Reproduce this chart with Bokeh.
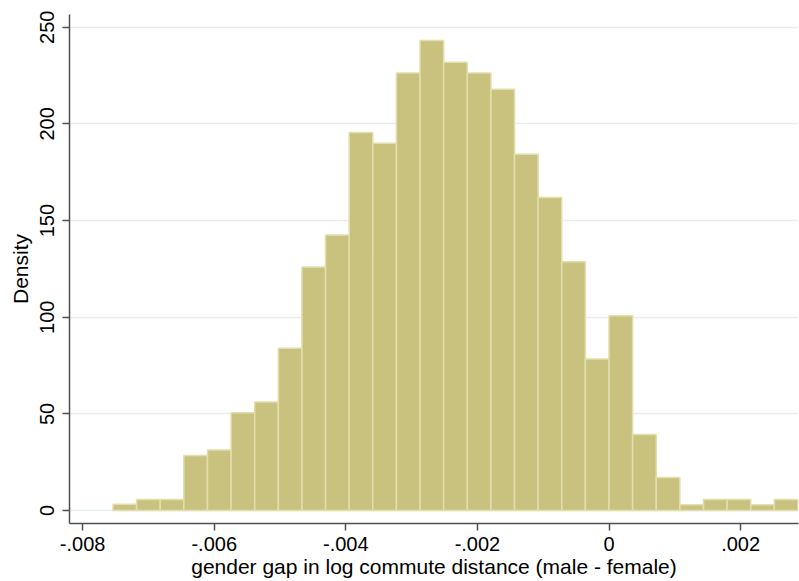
from bokeh.plotting import figure
from bokeh.models import FixedTicker, ColumnDataSource, Range1d
from bokeh.embed import file_html
from bokeh.resources import INLINE

# Histogram data (density)
bin_start = -0.007539
bin_width = 0.000359
density = [3.3, 5.7, 5.7, 28.5, 31.3, 50.6, 56.1, 84.0, 126.0, 142.5,
           195.6, 190.0, 226.4, 243.1, 231.9, 226.4, 217.9, 184.3, 162.0, 128.7,
           78.4, 100.8, 39.3, 17.1, 3.0, 5.7, 5.7, 3.0, 5.7]

x_ticks = [-0.008, -0.006, -0.004, -0.002, 0.0, 0.002]
x_tick_labels = ["-.008", "-.006", "-.004", "-.002", "0", ".002"]
y_ticks = [0, 50, 100, 150, 200, 250]
y_tick_labels = ["0", "50", "100", "150", "200", "250"]

x_title = "gender gap in log commute distance (male - female)"
y_title = "Density"

left = [bin_start + i * bin_width for i in range(len(density))]
right = [l + bin_width for l in left]
src = ColumnDataSource(dict(left=left, right=right, top=density, bottom=[0] * len(density)))

p = figure(width=799, height=581, output_backend="svg", toolbar_location=None,
           x_range=Range1d(-0.0082, 0.00288), y_range=Range1d(-6.7, 256.6),
           min_border_left=69, min_border_right=1, min_border_top=14, min_border_bottom=58)
p.background_fill_color = "white"
p.border_fill_color = "white"
p.outline_line_color = None

p.quad(left="left", right="right", top="top", bottom="bottom", source=src,
       fill_color="#c9c27f", line_color="#e2deae", line_width=1.5)

font = "Liberation Sans"
for ax in (p.xaxis[0], p.yaxis[0]):
    ax.axis_line_color = "#505050"
    ax.axis_line_width = 1.5
    ax.major_tick_line_color = "#505050"
    ax.major_tick_line_width = 1.5
    ax.major_tick_out = 7
    ax.major_tick_in = 0
    ax.minor_tick_out = 0
    ax.minor_tick_in = 0
    ax.major_label_text_font = font
    ax.major_label_text_font_size = "20px"
    ax.major_label_text_color = "black"
    ax.axis_label_text_font = font
    ax.axis_label_text_font_size = "21px"
    ax.axis_label_text_font_style = "normal"
    ax.axis_label_text_color = "black"

p.xaxis.ticker = FixedTicker(ticks=x_ticks)
p.xaxis.major_label_overrides = dict(zip(x_ticks, x_tick_labels))
p.xaxis.axis_label = x_title
p.xaxis.major_label_standoff = 6
p.xaxis.axis_label_standoff = 1

p.yaxis.ticker = FixedTicker(ticks=y_ticks)
p.yaxis.major_label_overrides = dict(zip(y_ticks, y_tick_labels))
p.yaxis.major_label_orientation = "vertical"
p.yaxis.axis_label = y_title
p.yaxis.major_label_standoff = 8
p.yaxis.axis_label_standoff = 6

p.xgrid.visible = False
p.ygrid.ticker = FixedTicker(ticks=y_ticks)
p.ygrid.grid_line_color = "#e6edf1"
p.ygrid.grid_line_width = 1.5

open("out.html", "w").write(file_html(p, INLINE))
